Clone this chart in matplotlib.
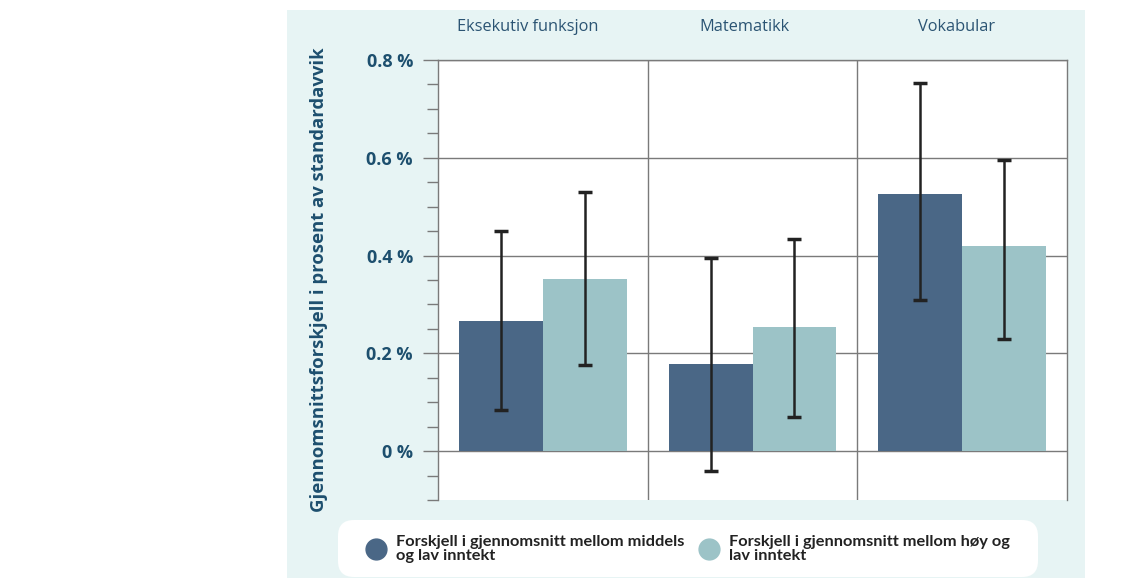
import matplotlib
matplotlib.use("Agg")
import matplotlib.pyplot as plt
import numpy as np
from matplotlib.lines import Line2D
from matplotlib.patches import FancyBboxPatch, Rectangle

plt.rcParams["font.family"] = ["Open Sans", "DejaVu Sans"]

# Gjennomsnittsforskjell per fagområde (andel av standardavvik), med konfidensintervall
categories = ["Eksekutiv funksjon", "Matematikk", "Vokabular"]
middels = [0.266, 0.178, 0.526]
middels_lo = [0.084, -0.041, 0.309]
middels_hi = [0.450, 0.395, 0.753]
hoy = [0.352, 0.254, 0.419]
hoy_lo = [0.176, 0.070, 0.229]
hoy_hi = [0.530, 0.434, 0.595]
yticks = [0.0, 0.2, 0.4, 0.6, 0.8]
ytick_labels = ["0 %", "0.2 %", "0.4 %", "0.6 %", "0.8 %"]
legend_labels = ["Forskjell i gjennomsnitt mellom middels\nog lav inntekt",
                 "Forskjell i gjennomsnitt mellom høy og\nlav inntekt"]

DARK = "#4a6786"
LIGHT = "#9cc3c7"
TEXT = "#1d4f6e"
PANEL = "#e7f4f4"
GRIDC = "#7a7a7a"

fig = plt.figure(figsize=(11.33, 5.83), dpi=100)
fig.patch.set_facecolor("white")

# light panel behind the whole chart
fig.add_artist(Rectangle((2.87, 0.05), 7.98, 5.68, transform=fig.dpi_scale_trans,
                         facecolor=PANEL, edgecolor="none", zorder=0))

ax = fig.add_axes([438 / 1133, 1 - 500 / 583, 629 / 1133, 440 / 583])
ax.set_facecolor("white")

x = np.arange(len(categories))
w = 0.4
xd = x + 0.3
xl = x + 0.7
ax.bar(xd, middels, width=w, color=DARK, zorder=2)
ax.bar(xl, hoy, width=w, color=LIGHT, zorder=2)

mid = np.array(middels)
hy = np.array(hoy)
ax.errorbar(xd, mid, yerr=[mid - np.array(middels_lo), np.array(middels_hi) - mid],
            fmt="none", ecolor="#222222", elinewidth=1.8, capsize=5, capthick=2.5, zorder=3)
ax.errorbar(xl, hy, yerr=[hy - np.array(hoy_lo), np.array(hoy_hi) - hy],
            fmt="none", ecolor="#222222", elinewidth=1.8, capsize=5, capthick=2.5, zorder=3)

for sep in x[1:]:
    ax.axvline(sep, color=GRIDC, lw=1, zorder=1)

ax.set_xlim(0, len(categories))
ax.set_ylim(-0.1, 0.8)
ax.set_xticks([])
ax.set_yticks(yticks)
ax.set_yticklabels(ytick_labels, fontsize=13, fontweight="bold", color=TEXT)
ax.set_yticks(np.arange(-0.1, 0.801, 0.05), minor=True)
ax.tick_params(axis="y", which="major", length=11, width=1, color=GRIDC, pad=7)
ax.tick_params(axis="y", which="minor", length=8, width=1, color=GRIDC)
ax.yaxis.grid(True, which="major", color=GRIDC, lw=1, zorder=1)
ax.set_axisbelow(True)

for side in ("left", "right", "top"):
    ax.spines[side].set_color(GRIDC)
    ax.spines[side].set_linewidth(1)
ax.spines["bottom"].set_visible(False)

ax.set_ylabel("Gjennomsnittsforskjell i prosent av standardavvik", fontsize=13.3,
              fontweight="bold", color=TEXT)
ax.yaxis.set_label_coords(-0.175, 0.5)

title_x = [0.43, 0.46, 0.475]
for tx, i, cat in zip(title_x, x, categories):
    ax.text(i + tx, 1.076, cat, transform=ax.get_xaxis_transform(), ha="center",
            va="center", fontsize=11.8, color="#2b5473")

# legend box
fig.add_artist(FancyBboxPatch((3.38, 0.06), 7.0, 0.57, transform=fig.dpi_scale_trans,
                              boxstyle="round,pad=0,rounding_size=0.16",
                              facecolor="white", edgecolor="none", zorder=1))
for cx, color, label in [(3.76, DARK, legend_labels[0]), (7.09, LIGHT, legend_labels[1])]:
    fig.add_artist(Line2D([cx], [0.34], transform=fig.dpi_scale_trans, marker="o",
                          markersize=15, color=color, ls="none", zorder=2))
    fig.text(cx + 0.2, 0.34, label, transform=fig.dpi_scale_trans, ha="left", va="center",
             fontsize=11.8, fontweight="bold", color="#222222", linespacing=0.92,
             family=["Lato", "DejaVu Sans"], zorder=2)

fig.savefig("out.png", dpi=100)
